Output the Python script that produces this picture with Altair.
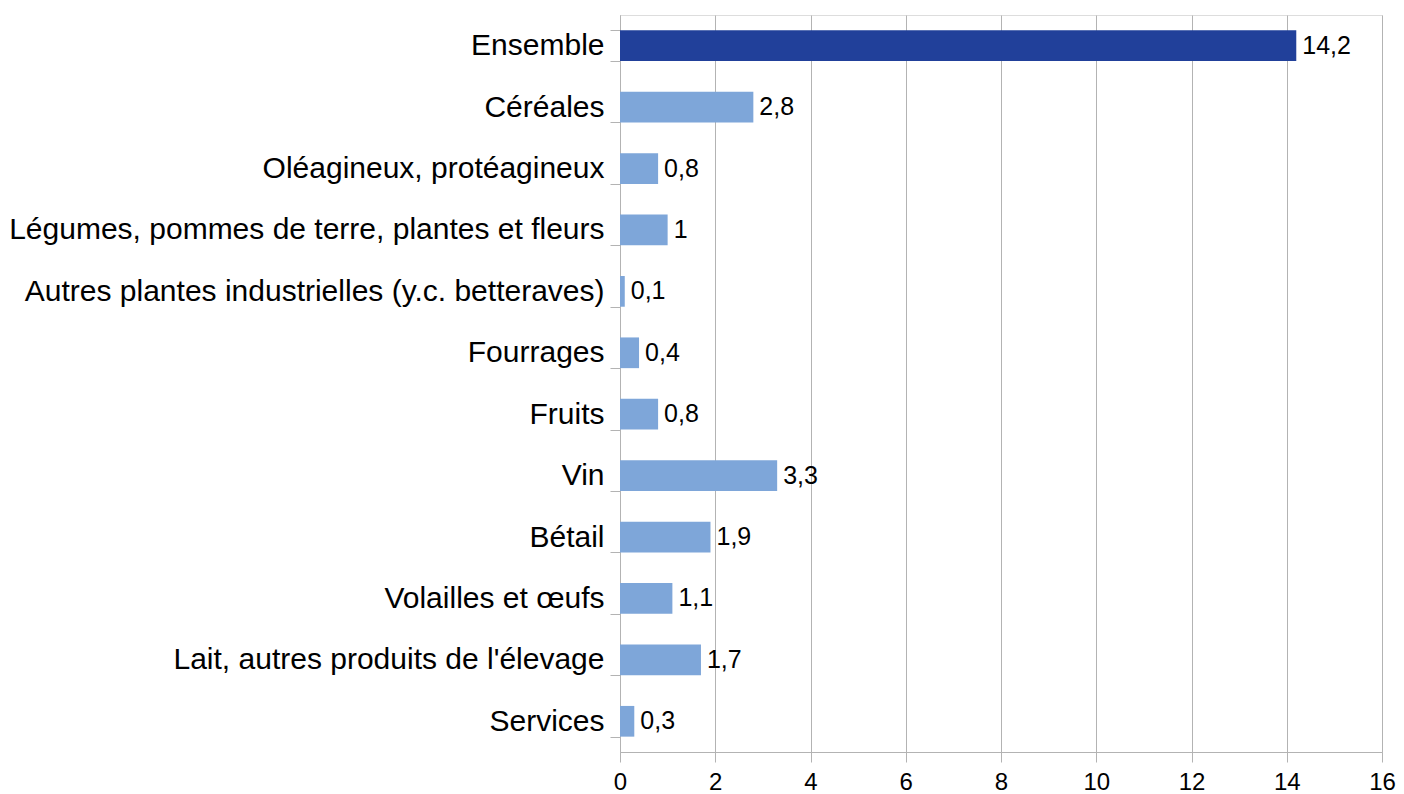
import altair as alt
import pandas as pd

categories = [
    "Ensemble",
    "Céréales",
    "Oléagineux, protéagineux",
    "Légumes, pommes de terre, plantes et fleurs",
    "Autres plantes industrielles (y.c. betteraves)",
    "Fourrages",
    "Fruits",
    "Vin",
    "Bétail",
    "Volailles et œufs",
    "Lait, autres produits de l'élevage",
    "Services",
]
values = [14.2, 2.8, 0.8, 1, 0.1, 0.4, 0.8, 3.3, 1.9, 1.1, 1.7, 0.3]
groups = ["total"] + ["detail"] * 11
labels = [("%g" % v).replace(".", ",") for v in values]
x_ticks = [0, 2, 4, 6, 8, 10, 12, 14, 16]

df = pd.DataFrame({"cat": categories, "val": values, "grp": groups, "lab": labels})

FONT = "Liberation Sans"
GRID = "#b3b3b3"

y_enc = alt.Y(
    "cat:N",
    sort=categories,
    scale=alt.Scale(paddingInner=0.5, paddingOuter=0.25),
    axis=alt.Axis(
        title=None,
        labelFontSize=30,
        labelFont=FONT,
        labelColor="#000000",
        labelPadding=6,
        labelLimit=0,
        tickBand="extent",
        tickSize=10,
        tickColor=GRID,
        domainColor=GRID,
        grid=False,
    ),
)

x_enc = alt.X(
    "val:Q",
    scale=alt.Scale(domain=[0, 16], nice=False),
    axis=alt.Axis(
        title=None,
        values=x_ticks,
        labelFontSize=24,
        labelFont=FONT,
        labelColor="#000000",
        labelPadding=8,
        labelFlush=False,
        tickSize=10,
        tickColor=GRID,
        domainColor=GRID,
        gridColor=GRID,
        grid=True,
    ),
)

bars = alt.Chart(df).mark_bar().encode(
    x=x_enc,
    y=y_enc,
    color=alt.Color(
        "grp:N",
        scale=alt.Scale(domain=["total", "detail"], range=["#21409A", "#7EA6D9"]),
        legend=None,
    ),
)

text = alt.Chart(df).mark_text(
    align="left", baseline="middle", dx=6, fontSize=25, font=FONT, color="#000000"
).encode(
    x=alt.X("val:Q"),
    y=alt.Y("cat:N", sort=categories),
    text="lab:N",
)

chart = (
    alt.layer(bars, text)
    .properties(
        width=762,
        height=737,
        autosize=alt.AutoSizeParams(type="none"),
        padding={"left": 612, "top": 7, "right": 14, "bottom": 42},
    )
    .configure_view(stroke=GRID, strokeWidth=1)
    .configure(background="white")
)

chart.save("out.html", embed_options={"renderer": "svg", "actions": False})
